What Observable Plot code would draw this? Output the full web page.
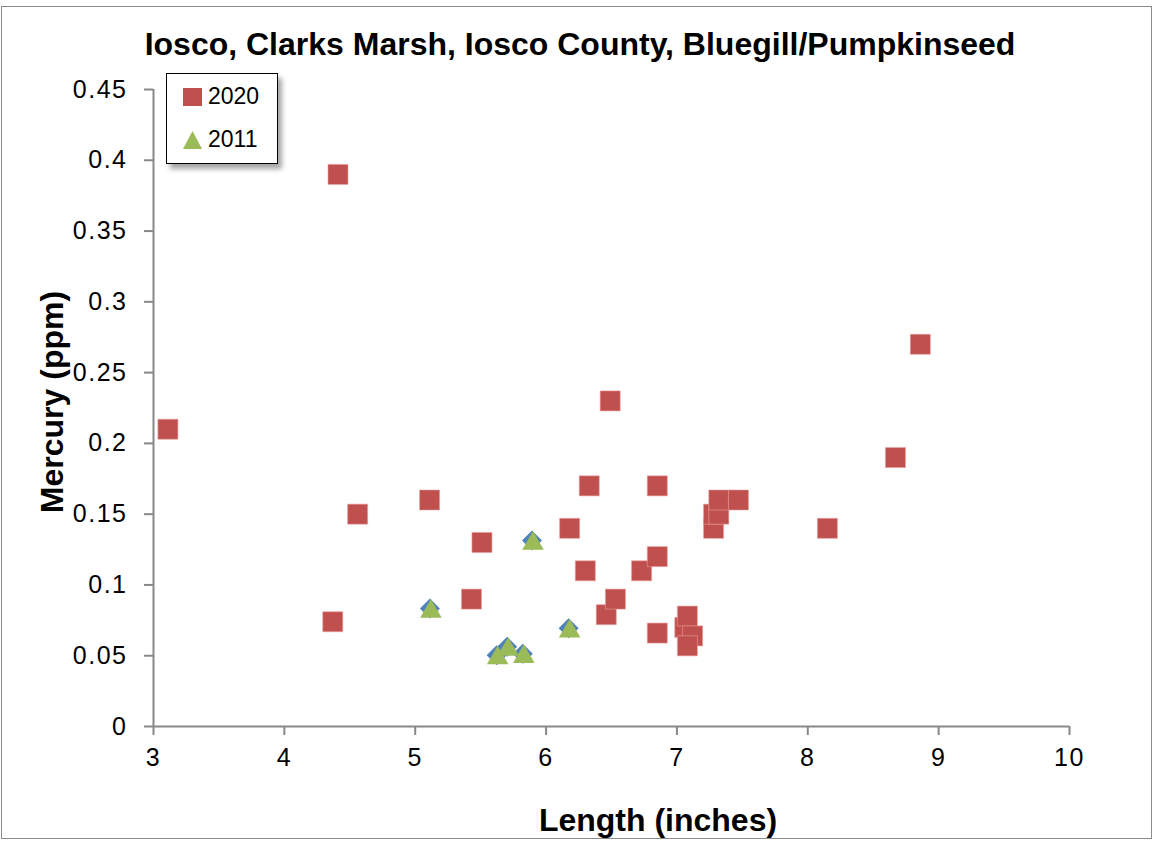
<!DOCTYPE html>
<html>
<head>
<meta charset="utf-8">
<script src="https://cdn.jsdelivr.net/npm/d3@7"></script>
<script src="https://cdn.jsdelivr.net/npm/@observablehq/plot@0.6"></script>
<style>
  body { margin: 0; background: #fff; font-family: "Liberation Sans", Arial, sans-serif; }
  #wrap { position: relative; width: 1156px; height: 842px; overflow: hidden; }
  #border { position: absolute; left: 1px; top: 6px; width: 1151px; height: 833px; border: 1.5px solid #8a8a8a; box-sizing: border-box; }
  #chart { position: absolute; left: 0; top: 0; }
  #chart svg g[aria-label$="tick label"] text { letter-spacing: 1.5px; }
  .title { position: absolute; left: 0; width: 1160px; top: 26px; text-align: center; font-weight: bold; font-size: 32px; letter-spacing: 0px; white-space: nowrap; }
  .xlab { position: absolute; left: 458px; width: 400px; top: 802px; text-align: center; font-weight: bold; font-size: 32px; }
  .ylab { position: absolute; left: 52px; top: 402px; transform: translate(-50%, -50%) rotate(-90deg); white-space: nowrap; font-weight: bold; font-size: 32px; }
  #legend { position: absolute; left: 166px; top: 73px; width: 112px; height: 91px; border: 1.5px solid #000; background: #fff; box-sizing: border-box; box-shadow: 4px 5px 5px rgba(0,0,0,0.35); font-family: "Liberation Sans", sans-serif; font-size: 23px; }
  .li { position: absolute; left: 16px; display: flex; align-items: center; }
  .li span { margin-left: 5px; }
</style>
</head>
<body>
<div id="wrap">
  <div id="border"></div>
  <div id="chart"></div>
  <div class="title">Iosco, Clarks Marsh, Iosco County, Bluegill/Pumpkinseed</div>
  <div class="ylab">Mercury (ppm)</div>
  <div class="xlab">Length (inches)</div>
  <div id="legend"></div>
</div>
<script>
// Data
const len2020 = [4.41, 3.11, 4.37, 4.56, 5.11, 5.51, 5.43, 6.18, 6.33, 6.30, 6.49, 6.46, 6.53, 6.73, 6.85, 6.85, 6.85, 7.06, 7.08, 7.12, 7.08, 7.28, 7.28, 7.32, 7.32, 7.47, 8.15, 8.67, 8.86];
const hg2020  = [0.39, 0.21, 0.074, 0.15, 0.16, 0.13, 0.09, 0.14, 0.17, 0.11, 0.23, 0.079, 0.09, 0.11, 0.17, 0.12, 0.066, 0.07, 0.078, 0.064, 0.057, 0.14, 0.15, 0.15, 0.16, 0.16, 0.14, 0.19, 0.27];
const len2011 = [5.12, 5.90, 5.63, 5.71, 5.83, 6.18];
const hg2011  = [0.082, 0.13, 0.049, 0.055, 0.05, 0.068];
const xTicks = [3, 4, 5, 6, 7, 8, 9, 10];
const yTicks = [0, 0.05, 0.1, 0.15, 0.2, 0.25, 0.3, 0.35, 0.4, 0.45];
const seriesNames = ["2020", "2011"];
const red = "#c0504d", green = "#9bbb59", blue = "#4f81bd";

const d2020 = len2020.map((x, i) => ({x, y: hg2020[i]}));
const d2011 = len2011.map((x, i) => ({x, y: hg2011[i]}));

const chart = Plot.plot({
  width: 1156,
  height: 842,
  marginLeft: 153,
  marginRight: 87,
  marginTop: 89,
  marginBottom: 116,
  style: { fontFamily: "Liberation Sans, Arial, sans-serif", color: "black", background: "transparent" },
  x: { domain: [3, 10] },
  y: { domain: [0, 0.45] },
  marks: [
    Plot.axisX({ ticks: xTicks, tickSize: 9, tickPadding: 13, fontSize: 25, stroke: "#888", strokeWidth: 2, fill: "black", label: null, tickFormat: d => String(d) }),
    Plot.axisY({ ticks: yTicks, tickSize: 9, tickPadding: 17, fontSize: 25, stroke: "#888", strokeWidth: 2, fill: "black", label: null, tickFormat: d => String(+d.toFixed(2)) }),
    Plot.ruleX([3], { stroke: "#888", strokeWidth: 2 }),
    Plot.ruleY([0], { stroke: "#888", strokeWidth: 2 }),
    Plot.dot(d2020, { x: "x", y: "y", symbol: "square", r: 11.3, fill: red, stroke: "#e8a0a0", strokeWidth: 0.6 }),
    Plot.dot(d2011, { x: "x", y: "y", symbol: "diamond2", r: 9, fill: blue, dx: -1, dy: -2 }),
    Plot.dot(d2011, { x: "x", y: "y", symbol: "triangle", r: 8, fill: green, dy: 1 })
  ]
});
document.getElementById("chart").appendChild(chart);

// Legend
const leg = document.getElementById("legend");
const sym = [
  `<svg width="20" height="20"><rect x="0" y="1" width="19" height="18" fill="${red}"/></svg>`,
  `<svg width="20" height="20"><polygon points="9.5,1 19,19 0,19" fill="${green}"/></svg>`
];
seriesNames.forEach((n, i) => {
  const d = document.createElement("div");
  d.className = "li";
  d.style.top = (i === 0 ? 9 : 52) + "px";
  d.innerHTML = sym[i] + `<span>${n}</span>`;
  leg.appendChild(d);
});
</script>
</body>
</html>
